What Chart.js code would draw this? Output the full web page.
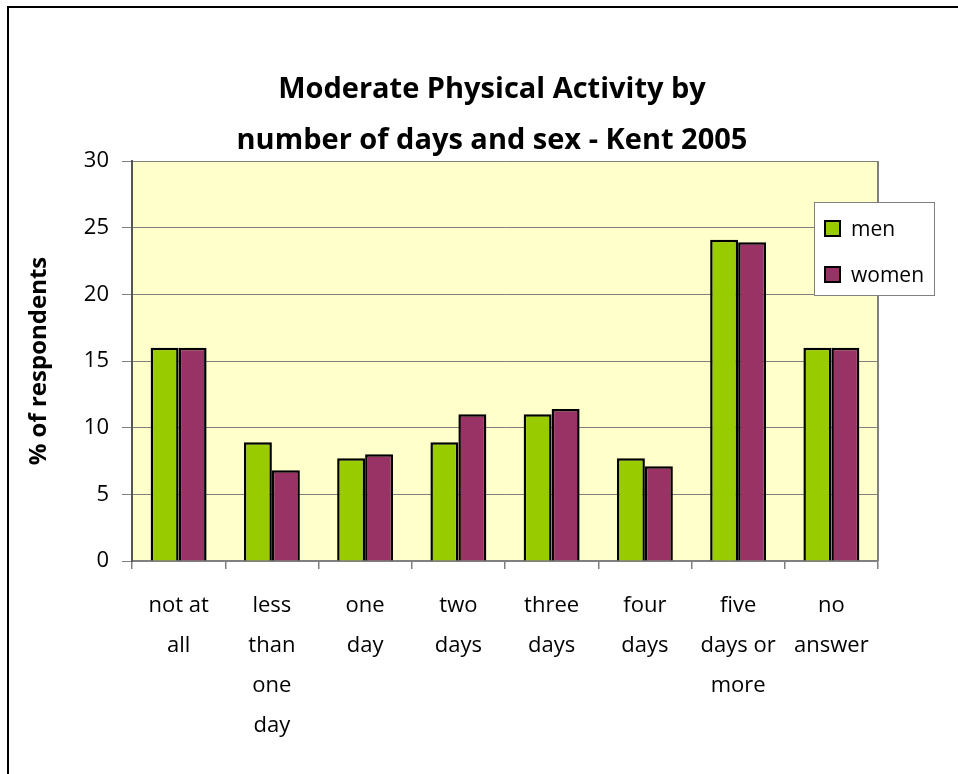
<!DOCTYPE html>
<html>
<head>
<meta charset="utf-8">
<script src="https://cdn.jsdelivr.net/npm/chart.js@4"></script>
<style>
  html, body { margin: 0; padding: 0; background: #fff; }
  #wrap { position: relative; width: 958px; height: 774px; overflow: hidden; }
  #frame { position: absolute; left: 7px; top: 6px; width: 980px; height: 800px;
           border-left: 2px solid #000; border-top: 2px solid #000; pointer-events: none; }
  #title { position: absolute; left: 0; top: 61px; width: 984px; text-align: center;
           font: bold 29px "Open Sans", sans-serif; line-height: 51px; color: #000; }
  #legend { position: absolute; left: 814px; top: 202px; width: 119px; height: 92px;
            background: #fff; border: 1px solid #808080; font: 21px "Open Sans", sans-serif; }
  #legend .it { position: absolute; left: 9px; display: flex; align-items: center; }
  #legend .sw { width: 13px; height: 13px; border: 2px solid #000; margin-right: 10px; }
</style>
</head>
<body>
<div id="wrap">
  <canvas id="c" width="958" height="774"></canvas>
  <div id="frame"></div>
  <div id="title"></div>
  <div id="legend"></div>
</div>
<script>
const titleLines = ["Moderate Physical Activity by", "number of days and sex - Kent 2005"];
const categories = [
  ["not at", "all"],
  ["less", "than", "one", "day"],
  ["one", "day"],
  ["two", "days"],
  ["three", "days"],
  ["four", "days"],
  ["five", "days or", "more"],
  ["no", "answer"],
];
const men = [16, 8.9, 7.7, 8.9, 11.0, 7.7, 24.1, 16];
const women = [16, 6.8, 8.0, 11.0, 11.4, 7.1, 23.9, 16];
const yTicks = [0, 5, 10, 15, 20, 25, 30];

const FONT = "'Open Sans', sans-serif";

// fond jaune + bord droit de la zone de tracé
const plotBg = {
  id: "plotBg",
  beforeDraw(chart) {
    const { ctx, chartArea: a } = chart;
    ctx.save();
    ctx.fillStyle = "#FFFFCC";
    ctx.fillRect(a.left, a.top, a.right - a.left, a.bottom - a.top);
    ctx.restore();
  },
  afterDraw(chart) {
    const { ctx, chartArea: a } = chart;
    ctx.save();
    ctx.strokeStyle = "#808080";
    ctx.lineWidth = 2;
    ctx.beginPath();
    ctx.moveTo(a.right, a.top);
    ctx.lineTo(a.right, a.bottom);
    ctx.stroke();
    ctx.restore();
  },
};

document.getElementById("title").innerHTML = titleLines.join("<br>");

const chart = new Chart(document.getElementById("c"), {
  type: "bar",
  data: {
    labels: categories,
    datasets: [
      { label: "men", data: men, backgroundColor: "#99CC00", borderColor: "#000", borderWidth: 2.5 },
      { label: "women", data: women, backgroundColor: "#993366", borderColor: "#000", borderWidth: 2.5 },
    ],
  },
  options: {
    responsive: false,
    animation: false,
    layout: { padding: { left: 0, right: 80, top: 161, bottom: 0 } },
    categoryPercentage: 0.6,
    barPercentage: 1.0,
    plugins: {
      legend: { display: false },
      tooltip: { enabled: false },
    },
    scales: {
      x: {
        grid: { offset: true, drawOnChartArea: false, color: "#808080", tickLength: 8, lineWidth: 1.5 },
        border: { color: "#808080", width: 2 },
        ticks: { color: "#000", font: { family: FONT, size: 22, lineHeight: 1.82 }, padding: 17, maxRotation: 0, autoSkip: false },
        afterFit: (s) => { s.height = 213; },
      },
      y: {
        min: 0,
        max: 30,
        afterBuildTicks: (s) => { s.ticks = yTicks.map((v) => ({ value: v })); },
        grid: { color: "#808080", tickLength: 10, lineWidth: 1 },
        border: { color: "#555", width: 2 },
        ticks: { color: "#000", font: { family: FONT, size: 22 }, padding: 13 },
        title: {
          display: true,
          text: "% of respondents",
          color: "#000",
          font: { family: FONT, size: 24, weight: "bold" },
          padding: { top: 25, bottom: 0 },
        },
        afterFit: (s) => { s.width = 132; },
      },
    },
  },
  plugins: [plotBg],
});

// légende en HTML, même position que l'original
const leg = document.getElementById("legend");
chart.data.datasets.forEach((d, i) => {
  const it = document.createElement("div");
  it.className = "it";
  it.style.top = (i === 0 ? 11 : 57) + "px";
  it.innerHTML = `<span class="sw" style="background:${d.backgroundColor}"></span><span>${d.label}</span>`;
  leg.appendChild(it);
});
</script>
</body>
</html>
